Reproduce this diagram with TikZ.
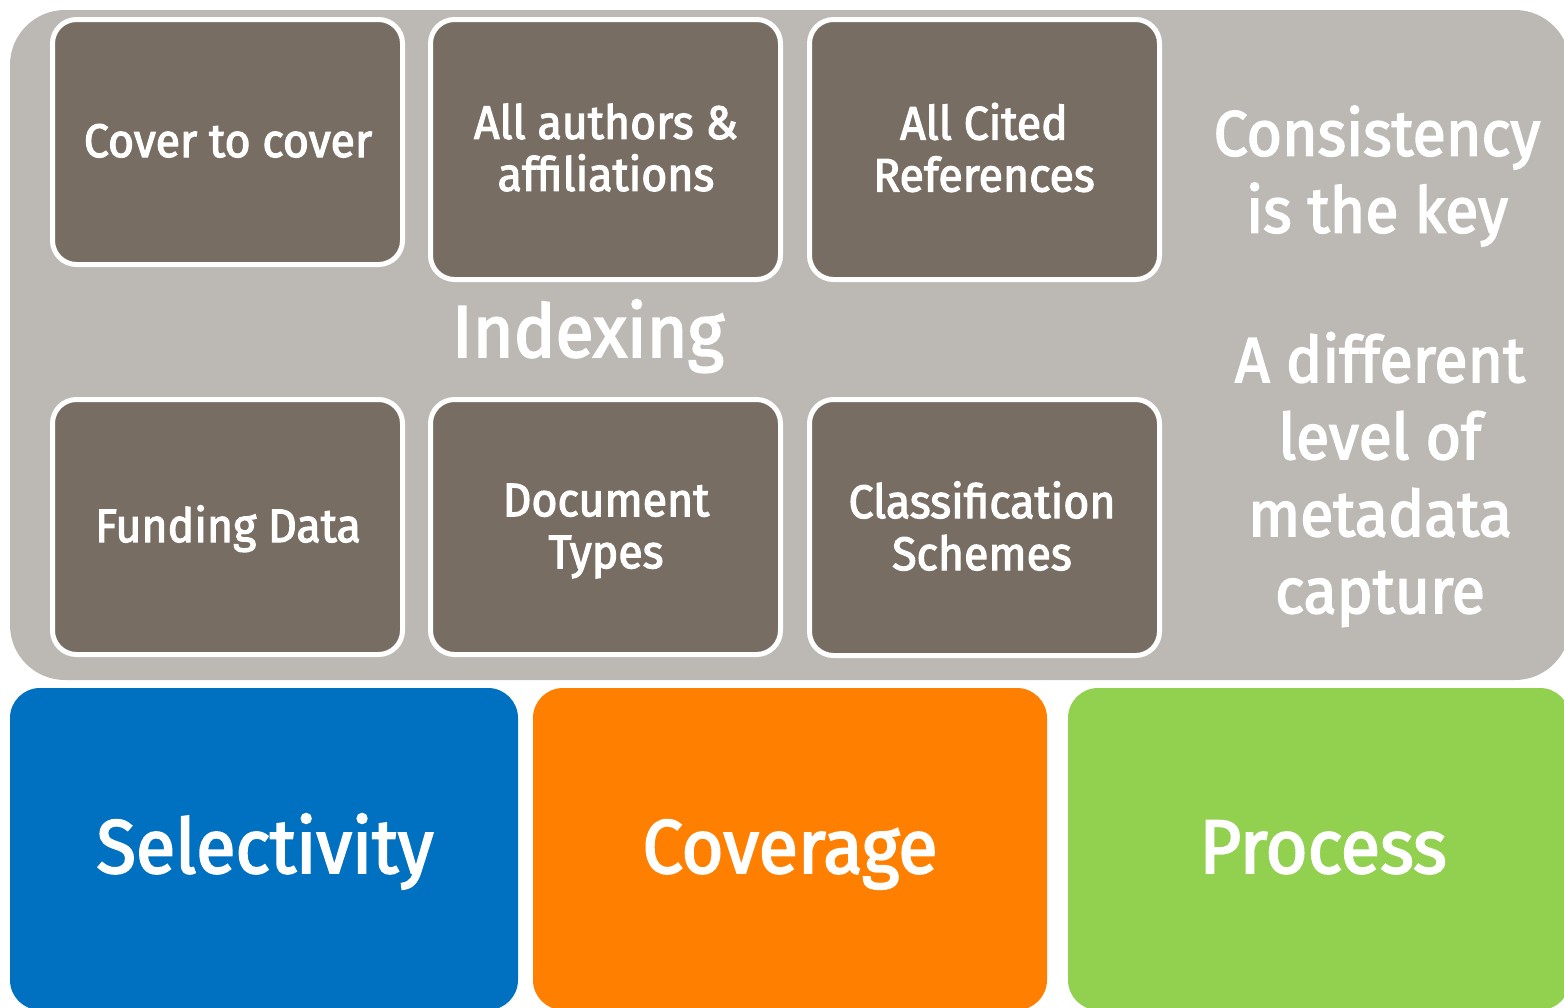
\documentclass[tikz,border=0pt]{standalone}
\usepackage{fontspec}
\setmainfont{Fira Sans}[FakeBold=2.5, FakeStretch=0.95]
\definecolor{graybg}{HTML}{BCB9B4}
\definecolor{darkbrown}{HTML}{776D62}
\definecolor{selblue}{HTML}{0070C0}
\definecolor{covorange}{HTML}{FF8000}
\definecolor{procgreen}{HTML}{92D050}
\tikzset{
  panel/.style={rectangle, fill=graybg, draw=none, rounded corners=27.5pt,
    minimum width=780pt, minimum height=335pt, inner sep=0pt, outer sep=0pt},
  tile/.style={rectangle, fill=darkbrown, draw=white, line width=2.5pt,
    rounded corners=12pt, minimum width=175pt, inner sep=0pt, outer sep=0pt},
  pillar/.style={rectangle, draw=none, rounded corners=15pt, minimum height=161pt,
    inner sep=0pt, outer sep=0pt},
  tiletext/.style={text=white, align=center, inner sep=0pt,
    font=\fontsize{23.5}{26}\selectfont},
  sidetext/.style={text=white, align=center, inner sep=0pt,
    font=\fontsize{32}{38.5}\selectfont},
  bigtext/.style={text=white, inner sep=0pt, anchor=base,
    font=\fontsize{38}{42}\selectfont}
}
\begin{document}
\begin{tikzpicture}[x=0.5pt,y=-0.5pt]
\useasboundingbox (0,0) rectangle (1564,1007);
% grey panel
\node[panel] (pan) at (790,345) {};
% tiles
\node[tile, minimum height=122.5pt] (t1) at (227.5,142) {};
\node[tile, minimum height=130pt]   (t2) at (605.5,149.5) {};
\node[tile, minimum height=130pt]   (t3) at (984.5,149.5) {};
\node[tile, minimum height=127.5pt] (t4) at (227.5,527) {};
\node[tile, minimum height=127.5pt] (t5) at (605.5,527) {};
\node[tile, minimum height=128pt]   (t6) at (984.5,527.5) {};
% tile texts
\node[tiletext, anchor=base] (l1) at (228,157) {Cover to cover};
\node[tiletext] (l2) at (606,147.5) {All authors \&\\affiliations};
\node[tiletext] (l3) at (984,147.5) {All Cited\\References};
\node[tiletext, anchor=base] (l4) at (228,542) {Funding Data};
\node[tiletext] (l5) at (606,531) {Document\\Types};
\node[tiletext] (l6) at (982,526) {Classification\\Schemes};
% panel texts
\node[text=white, inner sep=0pt, anchor=base, font=\fontsize{36.8}{40}\selectfont] (idx) at (588,357) {Indexing};
\node[sidetext] (cons) at (1377,176) {Consistency\\is the key};
\node[sidetext] (diff) at (1380,479.5) {A different\\level of\\metadata\\capture};
% pillars
\node[pillar, fill=selblue, minimum width=254pt] (sel) at (264,849) {};
\node[pillar, fill=covorange, minimum width=257pt] (cov) at (790,849) {};
\node[pillar, fill=procgreen, minimum width=251pt] (proc) at (1319,849) {};
\node[bigtext] (selt) at (265,873) {Selectivity};
\node[bigtext] (covt) at (790,873) {Coverage};
\node[bigtext] (proct) at (1323,873) {Process};
\end{tikzpicture}
\end{document}
